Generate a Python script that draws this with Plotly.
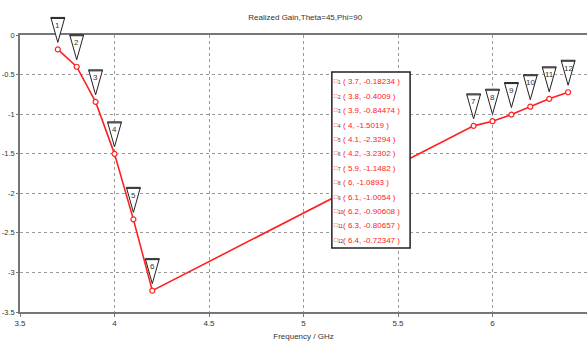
import plotly.graph_objects as go

freq = [3.7, 3.8, 3.9, 4.0, 4.1, 4.2, 5.9, 6.0, 6.1, 6.2, 6.3, 6.4]
gain = [-0.18234, -0.4009, -0.84474, -1.5019, -2.3294, -3.2302,
        -1.1482, -1.0893, -1.0054, -0.90608, -0.80657, -0.72347]
freq_labels = ["3.7", "3.8", "3.9", "4", "4.1", "4.2", "5.9", "6", "6.1", "6.2", "6.3", "6.4"]
gain_labels = ["-0.18234", "-0.4009", "-0.84474", "-1.5019", "-2.3294", "-3.2302",
               "-1.1482", "-1.0893", "-1.0054", "-0.90608", "-0.80657", "-0.72347"]
x_ticks = [3.5, 4, 4.5, 5, 5.5, 6, 6.5]
x_ticktext = ["3.5", "4", "4.5", "5", "5.5", "6", "6.5"]
y_ticks = [0, -0.5, -1, -1.5, -2, -2.5, -3, -3.5]
y_ticktext = ["0", "-0.5", "-1", "-1.5", "-2", "-2.5", "-3", "-3.5"]
X_RANGE = [3.5, 6.5]
Y_RANGE = [-3.5, 0]

FONT = "Liberation Sans Narrow, Liberation Sans, Arial, sans-serif"
RED = "#ff2020"

fig = go.Figure()
fig.add_trace(go.Scatter(
    x=freq, y=gain, mode="lines+markers",
    line=dict(color=RED, width=1.6),
    marker=dict(symbol="circle", size=5, color="white", line=dict(color=RED, width=1.2)),
    showlegend=False, hoverinfo="skip"))

shapes = []
annotations = []
for i, (fx, gy) in enumerate(zip(freq, gain)):
    yp = (gy - Y_RANGE[0]) / (Y_RANGE[1] - Y_RANGE[0])
    shapes.append(dict(
        type="path", xref="x", yref="paper", xsizemode="pixel", ysizemode="pixel",
        xanchor=fx, yanchor=yp,
        path="M-7,32 L7,32 L0,7 Z M-7,31 L7,31",
        line=dict(color="#222222", width=1), fillcolor="white", layer="above"))
    annotations.append(dict(
        x=fx, y=gy, xref="x", yref="y", text=str(i + 1), showarrow=False,
        yshift=24, font=dict(family=FONT, size=8, color="#333333")))

# marker readout box
BOX_X0, BOX_X1, BOX_Y0, BOX_Y1 = 0.55, 0.688, 0.231, 0.866
shapes.append(dict(type="rect", xref="paper", yref="paper",
                   x0=BOX_X0, x1=BOX_X1, y0=BOX_Y0, y1=BOX_Y1,
                   line=dict(color="#222222", width=1.5), fillcolor="white", layer="above"))
LINE_STEP = 14.4 / 277.0
for i in range(len(freq)):
    ytop = BOX_Y1 - 0.012 - i * LINE_STEP
    annotations.append(dict(
        x=BOX_X0 + 0.001, y=ytop, xref="paper", yref="paper", xanchor="left", yanchor="top",
        text="<span style='color:%s'>□</span><sub><span style='color:#333'>%d</span></sub>" % (RED, i + 1),
        showarrow=False, font=dict(family=FONT, size=6.5, color=RED)))
    annotations.append(dict(
        x=BOX_X0 + 0.016, y=ytop, xref="paper", yref="paper", xanchor="left", yanchor="top",
        text="( %s, %s )" % (freq_labels[i], gain_labels[i]),
        showarrow=False, font=dict(family=FONT, size=8, color=RED)))

fig.update_layout(
    width=587, height=343,
    margin=dict(l=20, r=0, t=35, b=31, autoexpand=False),
    paper_bgcolor="white", plot_bgcolor="white",
    title=dict(text="Realized Gain,Theta=45,Phi=90", x=0.52, xanchor="center", y=0.95, yanchor="middle",
               font=dict(family=FONT, size=8, color="#333333")),
    font=dict(family=FONT, size=8, color="#333333"),
    shapes=shapes, annotations=annotations,
    xaxis=dict(range=X_RANGE, tickvals=x_ticks, ticktext=x_ticktext,
               showgrid=True, gridcolor="#999999", griddash="dot", gridwidth=1,
               showline=True, linecolor="#777777", linewidth=1.5, mirror=True,
               ticks="outside", ticklen=3, tickcolor="#777777", zeroline=False,
               title=dict(text="Frequency / GHz", font=dict(family=FONT, size=8), standoff=6)),
    yaxis=dict(range=Y_RANGE, tickvals=y_ticks, ticktext=y_ticktext,
               tickfont=dict(family=FONT, size=7.5),
               showgrid=True, gridcolor="#999999", griddash="dot", gridwidth=1,
               showline=True, linecolor="#777777", linewidth=1.5, mirror=True,
               ticks="outside", ticklen=2, tickcolor="#777777", zeroline=False),
)

fig.write_html("out.html", config={"displayModeBar": False},
               post_script="document.body.style.margin='0';document.body.style.overflow='hidden';")
